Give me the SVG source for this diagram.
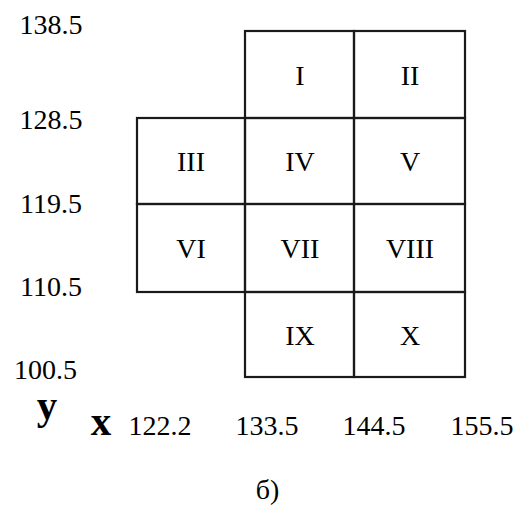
<svg xmlns="http://www.w3.org/2000/svg" width="517" height="508" viewBox="0 0 517 508">
<style>
.cell{fill:none;stroke:#1a1a1a;stroke-width:2.2}
.num{font-family:"Liberation Serif","Times New Roman",serif;font-size:28px;fill:#000;text-anchor:middle}
.ax{font-family:"Liberation Serif","Times New Roman",serif;font-size:41px;font-weight:bold;fill:#000;text-anchor:middle}
</style>
<rect width="517" height="508" fill="#fff"/>
<g id="cell-I"><rect class="cell" x="245" y="31" width="109" height="87"/><text class="num" x="300" y="85">I</text></g>
<g id="cell-II"><rect class="cell" x="354" y="31" width="111" height="87"/><text class="num" x="410" y="85">II</text></g>
<g id="cell-III"><rect class="cell" x="137" y="118" width="108" height="86"/><text class="num" x="191" y="171">III</text></g>
<g id="cell-IV"><rect class="cell" x="245" y="118" width="109" height="86"/><text class="num" x="300" y="171">IV</text></g>
<g id="cell-V"><rect class="cell" x="354" y="118" width="111" height="86"/><text class="num" x="410" y="171">V</text></g>
<g id="cell-VI"><rect class="cell" x="137" y="204" width="108" height="88"/><text class="num" x="191" y="258">VI</text></g>
<g id="cell-VII"><rect class="cell" x="245" y="204" width="109" height="88"/><text class="num" x="300" y="258">VII</text></g>
<g id="cell-VIII"><rect class="cell" x="354" y="204" width="111" height="88"/><text class="num" x="410" y="258">VIII</text></g>
<g id="cell-IX"><rect class="cell" x="245" y="292" width="109" height="85"/><text class="num" x="300" y="345">IX</text></g>
<g id="cell-X"><rect class="cell" x="354" y="292" width="111" height="85"/><text class="num" x="410" y="345">X</text></g>
<g id="y-axis-labels">
<text class="num" x="51" y="34">138.5</text>
<text class="num" x="51" y="129">128.5</text>
<text class="num" x="51" y="213">119.5</text>
<text class="num" x="51" y="296">110.5</text>
<text class="num" x="45.5" y="379">100.5</text>
<text class="ax" x="47" y="419">y</text>
</g>
<g id="x-axis-labels">
<text class="ax" x="101" y="435">x</text>
<text class="num" x="160" y="435">122.2</text>
<text class="num" x="267" y="435">133.5</text>
<text class="num" x="374" y="435">144.5</text>
<text class="num" x="482" y="435">155.5</text>
</g>
<g id="caption"><text class="num" x="267.5" y="499">б)</text></g>
<g id="connectors"/>
</svg>
